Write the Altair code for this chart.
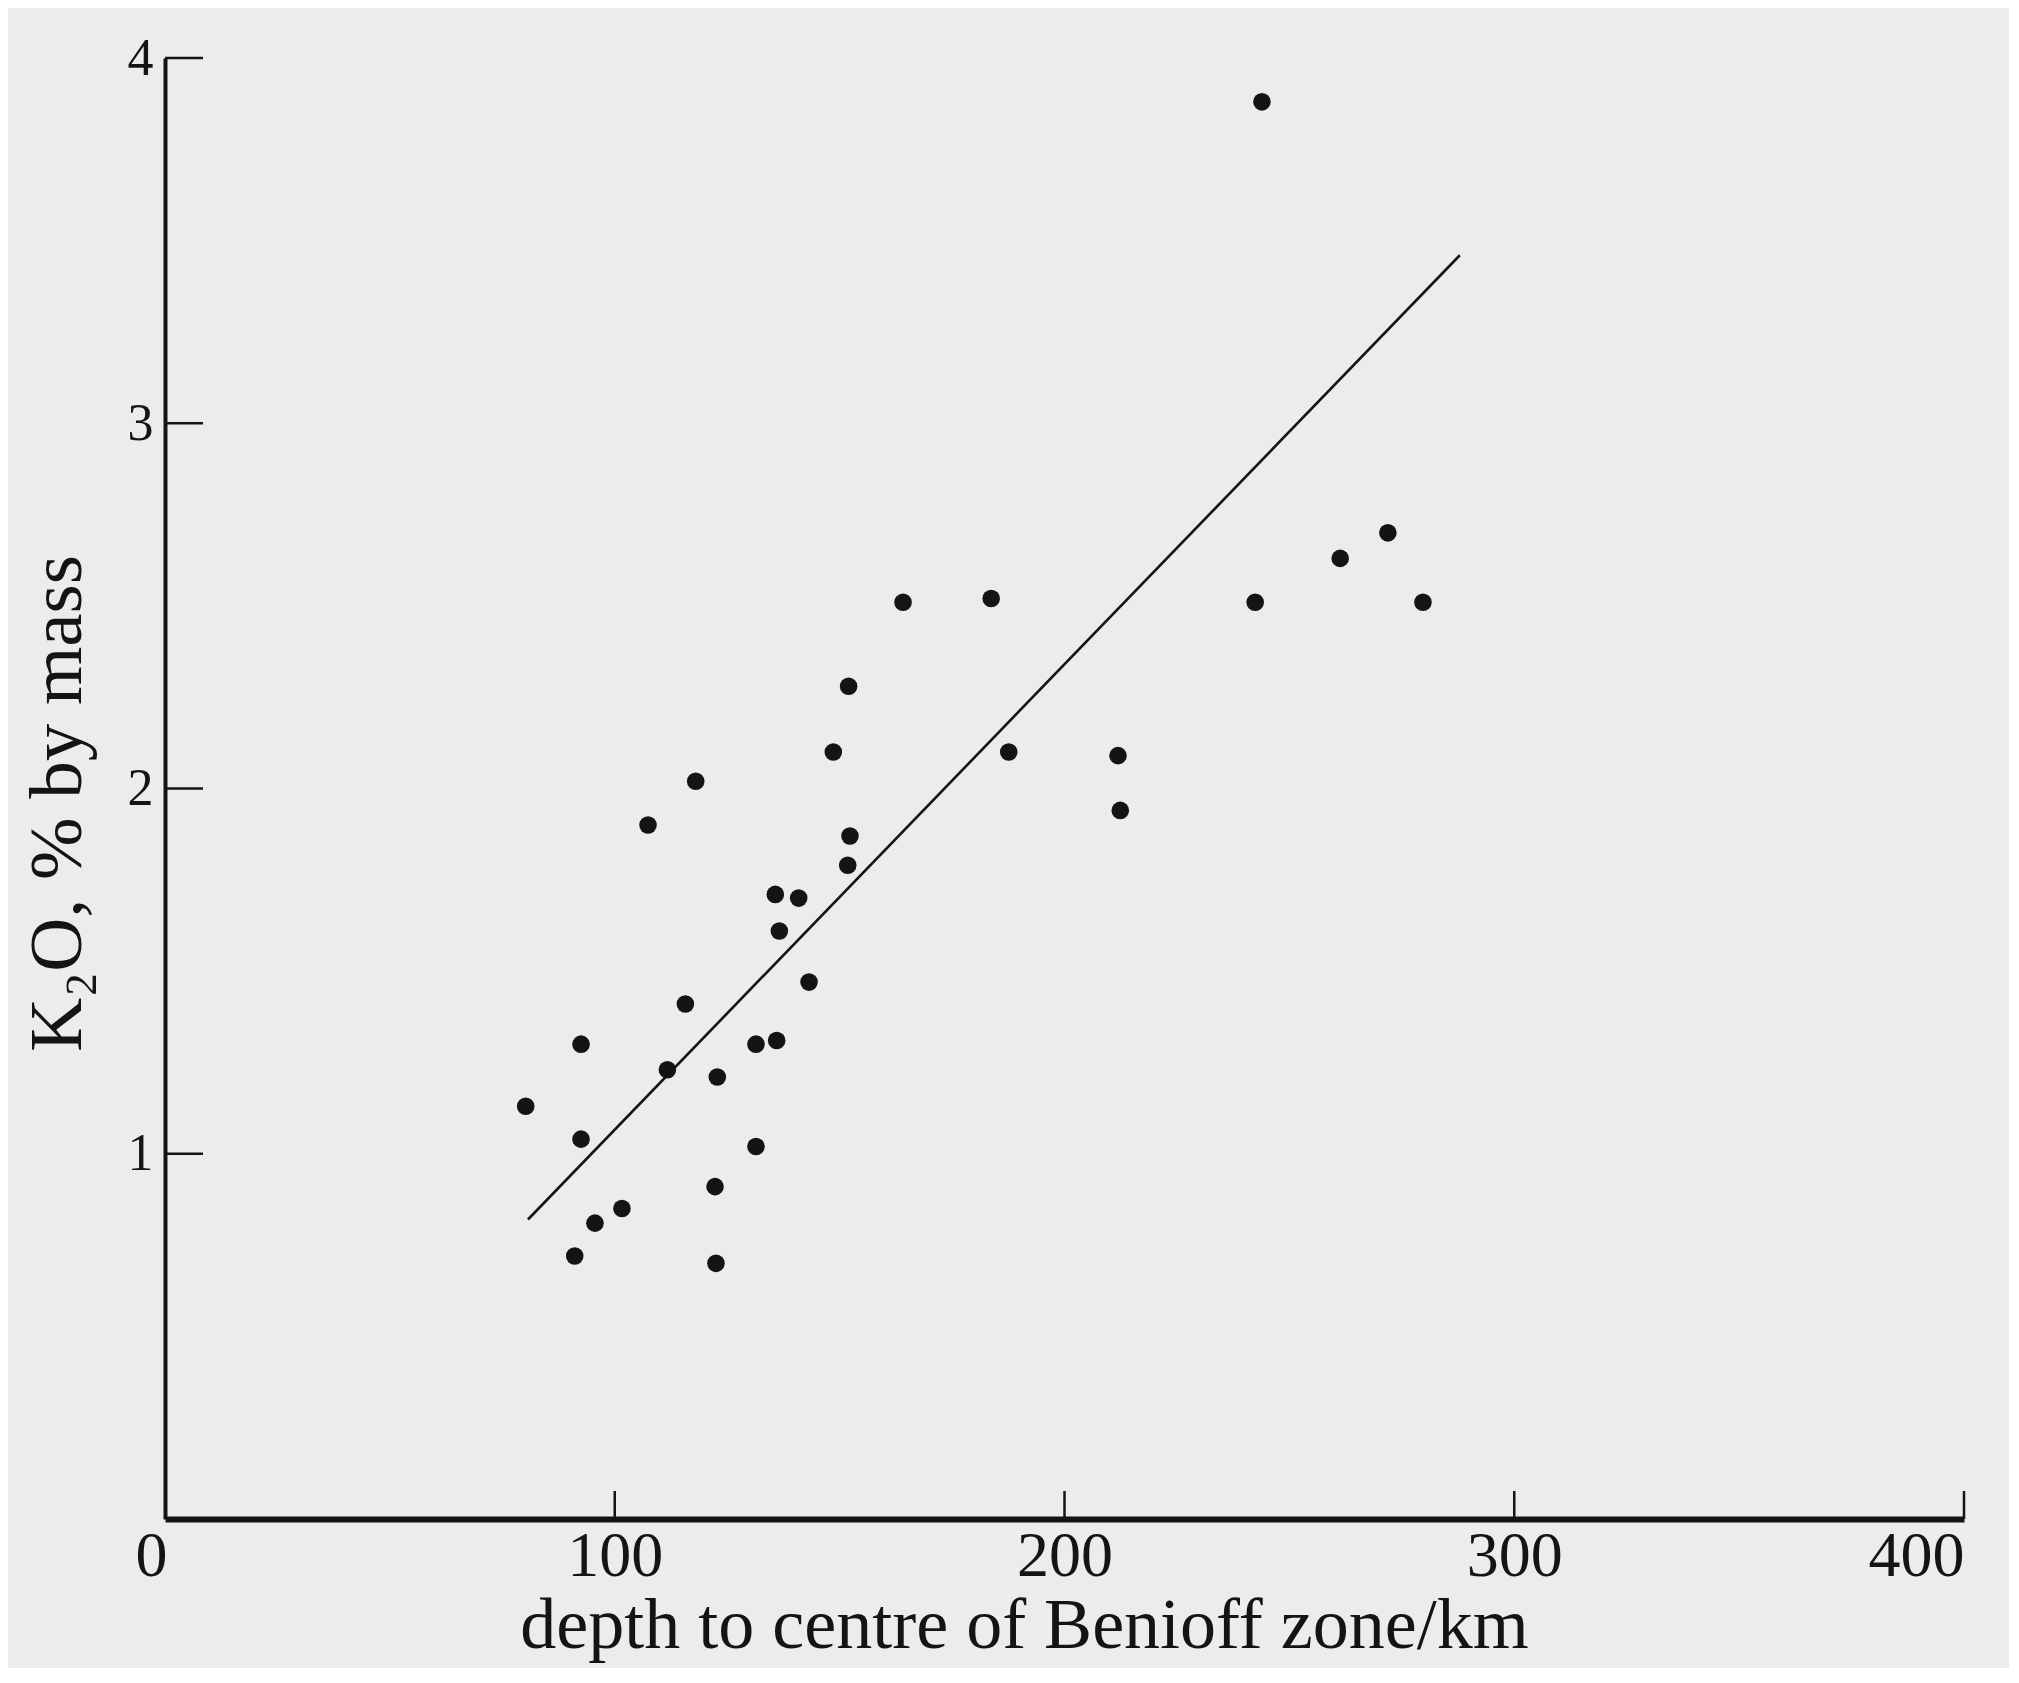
import altair as alt
import pandas as pd

# ---- data ----
depth_km = [80.2, 92.5, 92.5, 91.1, 95.6, 101.6, 107.4, 111.7, 115.7, 118.0,
            122.8, 122.3, 122.5, 131.4, 136.0, 131.4, 135.7, 136.6, 140.9, 143.2,
            148.6, 152.0, 152.3, 151.8, 164.1, 183.7, 187.6, 211.9, 212.4, 242.4,
            243.9, 261.3, 271.9, 279.7]
k2o_pct = [1.13, 1.30, 1.04, 0.72, 0.81, 0.85, 1.90, 1.23, 1.41, 2.02,
           1.21, 0.91, 0.70, 1.30, 1.31, 1.02, 1.71, 1.61, 1.70, 1.47,
           2.10, 2.28, 1.87, 1.79, 2.51, 2.52, 2.10, 2.09, 1.94, 2.51,
           3.88, 2.63, 2.70, 2.51]

fit_x = [80.7, 287.9]
fit_y = [0.82, 3.46]

x_ticks = [0, 100, 200, 300, 400]
y_ticks = [1, 2, 3, 4]

x_title = "depth to centre of Benioff zone/km"
y_title = "K\u2082O, % by mass"

# ---- layout ----
W, H = 1799, 1461
FONT = "Liberation Serif"
INK = "#141414"

pts = pd.DataFrame({"depth": depth_km, "k2o": k2o_pct})
fit = pd.DataFrame({"depth": fit_x, "k2o": fit_y})
yt = pd.DataFrame({"v": y_ticks})
xt = pd.DataFrame({"v": x_ticks[1:]})

xscale = alt.Scale(domain=[0, 400], nice=False, zero=False)
yscale = alt.Scale(domain=[0, 4], nice=False, zero=False)

xaxis = alt.Axis(
    values=x_ticks, format="d", ticks=False, grid=False,
    domain=True, domainColor=INK, domainWidth=6,
    labelFont=FONT, labelFontSize=64, labelColor=INK, labelPadding=5,
    labelOffset=alt.ExprRef(expr="datum.value == 0 ? -30 : 0"),
    title=x_title, titleFont=FONT, titleFontSize=72, titleFontWeight="normal",
    titleColor=INK, titleBaseline="alphabetic", titleY=128,
    titleX=859, titleAlign="center",
)
yaxis = alt.Axis(
    values=y_ticks, format="d", ticks=False, grid=False,
    domain=True, domainColor=INK, domainWidth=4,
    labelFont=FONT, labelFontSize=52, labelColor=INK, labelPadding=12,
    title=y_title, titleFont=FONT, titleFontSize=75, titleFontWeight="normal",
    titleColor=INK, titleBaseline="alphabetic", titleAngle=270,
    titleX=-85, titleY=745, titleAlign="center",
)

base_x = alt.X("depth:Q", scale=xscale, axis=xaxis)
base_y = alt.Y("k2o:Q", scale=yscale, axis=yaxis)

points = alt.Chart(pts).mark_circle(size=310, color=INK, opacity=1).encode(
    x=base_x, y=base_y
)
line = alt.Chart(fit).mark_line(color=INK, strokeWidth=2.6).encode(
    x=alt.X("depth:Q", scale=xscale), y=alt.Y("k2o:Q", scale=yscale)
)
yticks = alt.Chart(yt).mark_rule(color=INK, strokeWidth=2.5).encode(
    y=alt.Y("v:Q", scale=yscale), x=alt.value(0), x2=alt.value(38)
)
xticks = alt.Chart(xt).mark_rule(color=INK, strokeWidth=2.5).encode(
    x=alt.X("v:Q", scale=xscale), y=alt.value(H), y2=alt.value(H - 28)
)

chart = alt.layer(points, line, yticks, xticks).properties(
    width=W, height=H,
    autosize=alt.AutoSizeParams(type="none"),
    padding={"left": 157, "top": 50, "right": 45, "bottom": 149},
    background="#ececec",
).configure_view(stroke="transparent")

chart.save("out.html", embed_options={"renderer": "svg", "actions": False})
